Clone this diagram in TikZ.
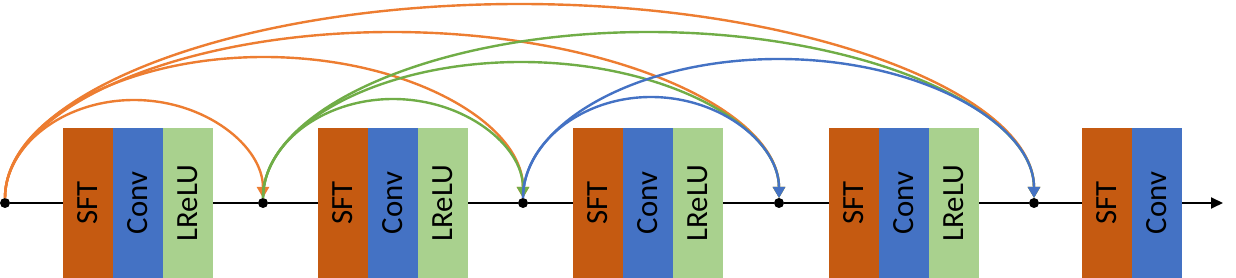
\documentclass[tikz,border=0pt]{standalone}
\usepackage{fontspec}
\usepackage{graphicx}
\usepackage{tikz}
\usetikzlibrary{calc}
\usetikzlibrary{positioning}
\usetikzlibrary{arrows.meta}

\newfontfamily\blockfont{Carlito}
\definecolor{sftcol}{HTML}{C55A11}
\definecolor{convcol}{HTML}{4472C4}
\definecolor{lrelucol}{HTML}{A9D18E}
\definecolor{arcorange}{HTML}{ED7D31}
\definecolor{arcgreen}{HTML}{70AD47}
\definecolor{arcblue}{HTML}{4472C4}
\newcommand{\vtext}[1]{\rotatebox{90}{#1}}

\begin{document}
\begin{tikzpicture}[x=0.5pt,y=0.5pt,>={Triangle[length=5.5pt,width=6pt]},
	  dot/.style={circle,fill=black,inner sep=0pt,minimum size=5pt},
	  block/.style={minimum width=25pt,minimum height=75pt,inner sep=0pt,outer sep=0pt,
	    font=\blockfont\fontsize{15.4}{18}\selectfont},
	  sft/.style={block,fill=sftcol},
	  conv/.style={block,fill=convcol},
	  lrelu/.style={block,fill=lrelucol},
	  skip/.style={->,line width=1.2pt,shorten <=2.5pt,shorten >=2.5pt,
	    to path={let \p1=(\tikztostart), \p2=(\tikztotarget), \n1={(\x2-\x1)/2} in
	      (\p1) arc[start angle=180,end angle=0,x radius=\n1,y radius=#1]}},
	  orangearc/.style={skip=#1,draw=arcorange},
	  greenarc/.style={skip=#1,draw=arcgreen},
	  bluearc/.style={skip=#1,draw=arcblue}]

	  \useasboundingbox (0,0) rectangle (1236,278);

	  % junctions on the main line
	  \node[dot] (d0) at (5,75) {};
	  \node[dot] (d1) at (263,75) {};
	  \node[dot] (d2) at (523,75) {};
	  \node[dot] (d3) at (779,75) {};
	  \node[dot] (d4) at (1034,75) {};
	  \coordinate (out) at (1223,75);

	  \node[sft] (sft1) at (88,75) {\vtext{SFT}};
	  \node[conv, right=0pt of sft1] (conv1) {\vtext{Conv}};
	  \node[lrelu, right=0pt of conv1] (lrelu1) {\vtext{LReLU}};

	  \node[sft] (sft2) at (343,75) {\vtext{SFT}};
	  \node[conv, right=0pt of sft2] (conv2) {\vtext{Conv}};
	  \node[lrelu, right=0pt of conv2] (lrelu2) {\vtext{LReLU}};

	  \node[sft] (sft3) at (598,75) {\vtext{SFT}};
	  \node[conv, right=0pt of sft3] (conv3) {\vtext{Conv}};
	  \node[lrelu, right=0pt of conv3] (lrelu3) {\vtext{LReLU}};

	  \node[sft] (sft4) at (854,75) {\vtext{SFT}};
	  \node[conv, right=0pt of sft4] (conv4) {\vtext{Conv}};
	  \node[lrelu, right=0pt of conv4] (lrelu4) {\vtext{LReLU}};

	  \node[sft] (sft5) at (1107,75) {\vtext{SFT}};
	  \node[conv, right=0pt of sft5] (conv5) {\vtext{Conv}};

	  \draw[line width=0.9pt] (d0) -- (sft1) (lrelu1) -- (d1) -- (sft2)
	    (lrelu2) -- (d2) -- (sft3) (lrelu3) -- (d3) -- (sft4) (lrelu4) -- (d4) -- (sft5);
	  \draw[line width=0.9pt,-{Triangle[length=6pt,width=5.5pt]}] (conv5) -- (out);

	  % skip connections, widest first
	  \path
	    (d0) edge[orangearc=51.5pt] (d1)
	    (d0) edge[orangearc=73pt] (d2)
	    (d0) edge[orangearc=85.5pt] (d3)
	    (d0) edge[orangearc=99.5pt] (d4);
	  \path
	    (d1) edge[greenarc=52pt] (d2)
	    (d1) edge[greenarc=70.5pt] (d3)
	    (d1) edge[greenarc=85.5pt] (d4);
	  \path
	    (d2) edge[bluearc=53pt] (d3)
	    (d2) edge[bluearc=72pt] (d4);
	\end{tikzpicture}
\end{document}
